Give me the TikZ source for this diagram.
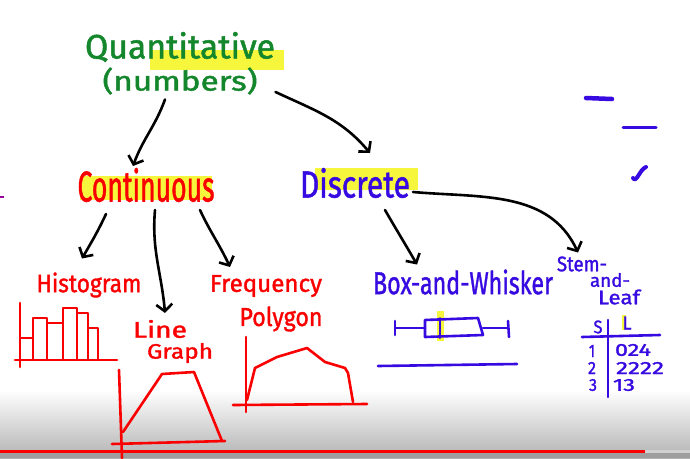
\documentclass[tikz,border=0pt]{standalone}
\usepackage{graphicx}
\usepackage{fontspec}
\setmainfont{Fira Sans}
\newfontfamily\handfont{Fira Sans}[UprightFeatures={FakeBold=1.4}]
\usetikzlibrary{arrows.meta,calc}
\definecolor{qgreen}{RGB}{20,135,45}
\definecolor{qred}{RGB}{250,0,0}
\definecolor{qblue}{RGB}{55,10,225}
\definecolor{qyellow}{RGB}{246,246,60}
\newcommand{\fitt}[3]{\resizebox*{#1pt}{#2pt}{\handfont #3}}
\begin{document}
\begin{tikzpicture}[x=1pt,y=-1pt,
  every node/.style={inner sep=0pt,outer sep=0pt},
  arr/.style={draw=black,line width=2.6pt,line cap=round,-{Straight Barb[length=7pt,width=16pt,line width=2.6pt]}},
  redpen/.style={draw=qred,line width=2.6pt,line cap=round,line join=round},
  bluepen/.style={draw=qblue,line width=2.6pt,line cap=round,line join=round},
  hl/.style={fill=qyellow,draw=none},
  gtxt/.style={text=qgreen},
  rtxt/.style={text=qred},
  btxt/.style={text=qblue}]
\useasboundingbox (0,0) rectangle (690,458);
\fill[white] (0,0) rectangle (690,458);
% video player bottom shading
\shade[top color=white,bottom color=black!30,draw=none] (0,390) rectangle (690,458);
\fill[black!38] (0,453) rectangle (690,458);
\fill[black!18] (645,449.5) rectangle (690,453);
\fill[qred] (0,449.5) rectangle (645,453);

% highlights
\fill[hl] (150,50) rectangle (284,70);
\fill[hl] (80,176) rectangle (212,200);
\fill[hl] (315,168) rectangle (418,190);
\fill[hl] (437,311) rectangle (444,341);
\fill[hl] (622,315) rectangle (626,330);

% texts
\node[gtxt] (quant) at (180,47) {\fitt{190}{30}{Quantitative}};
\node[gtxt] (numbers) at (180,81) {\fitt{155}{27}{(numbers)}};
\node[rtxt] (cont) at (146,185) {\fitt{137}{34}{Continuous}};
\node[btxt] (disc) at (355,183) {\fitt{110}{30}{Discrete}};
\node[rtxt] (hist) at (89,285) {\fitt{105}{25}{Histogram}};
\node[rtxt] (line) at (160,329) {\fitt{54}{18}{Line}};
\node[rtxt] (graph) at (180,353) {\fitt{66}{20}{Graph}};
\node[rtxt] (freq) at (266,286) {\fitt{112}{22}{Frequency}};
\node[rtxt] (poly) at (281,319) {\fitt{83}{25}{Polygon}};
\node[btxt] (box) at (463,282) {\fitt{180}{25}{Box-and-Whisker}};
\node[btxt] (stem) at (582,264) {\fitt{50}{15}{Stem-}};
\node[btxt] (and) at (610,280) {\fitt{40}{14}{and-}};
\node[btxt] (leaf) at (619,297) {\fitt{42}{15}{Leaf}};
% stem and leaf table
\node[btxt] (sh) at (598,327) {\fitt{9}{13}{S}};
\node[btxt] (lh) at (627,323) {\fitt{9}{13}{L}};
\node[btxt] (s1) at (592,351) {\fitt{6}{12}{1}};
\node[btxt] (l1) at (633,350) {\fitt{36}{12}{024}};
\node[btxt] (s2) at (592,368) {\fitt{8}{12}{2}};
\node[btxt] (l2) at (640,368) {\fitt{48}{12}{2222}};
\node[btxt] (s3) at (593,385) {\fitt{8}{12}{3}};
\node[btxt] (l3) at (624,385) {\fitt{22}{12}{13}};
\draw[bluepen] (582,337) -- (660,335);
\draw[bluepen] (608,320) -- (608,397);

% connectors
\draw[arr] ([xshift=-15pt,yshift=-5pt]numbers.south) to[out=-110,in=70] ([xshift=-13pt,yshift=2pt]cont.north);
\draw[arr] ([xshift=18pt,yshift=-11pt]numbers.east) to[out=-25,in=130] ([xshift=15pt,yshift=15pt]disc.north);
\draw[arr] ([xshift=-40pt,yshift=-12pt]cont.south) to[out=-115,in=60] ([xshift=-7pt,yshift=14pt]hist.north);
\draw[arr] ([xshift=9pt,yshift=-8pt]cont.south) to[out=-95,in=95] ([xshift=5pt,yshift=7pt]line.north);
\draw[arr] ([xshift=54pt,yshift=-8pt]cont.south) to[out=-65,in=115] ([xshift=-36pt,yshift=8pt]freq.north);
\draw[arr] ([xshift=30pt,yshift=-12pt]disc.south) to[out=-60,in=120] ([xshift=-46pt,yshift=5pt]box.north);
\draw[arr] ([xshift=3pt,yshift=6pt]disc.south east) to[out=-5,in=115] ([xshift=-4pt,yshift=4pt]stem.north);

% histogram chart
\draw[redpen] (20,303) -- (20,367);
\draw[redpen] (15,360) -- (117,360);
\draw[redpen] (20,338) rectangle (33,360);
\draw[redpen] (33,318) rectangle (47,360);
\draw[redpen] (47,323) rectangle (63,360);
\draw[redpen] (63,308) rectangle (77,360);
\draw[redpen] (77,313) rectangle (88,360);
\draw[redpen] (88,328) rectangle (98,360);

% line graph chart
\draw[redpen] (119,370) -- (122,458);
\draw[redpen] (112,444) -- (225,441);
\draw[redpen] (123,432) -- (162,374) -- (194,372) -- (222,441);

% frequency polygon chart
\draw[redpen] (246,337) -- (246,412);
\draw[redpen] (233,405) -- (367,404);
\draw[redpen] (247,400) -- (255,368) -- (277,357) -- (307,348) -- (325,362) -- (345,368) -- (348,373) -- (353,402);

% box and whisker
\draw[bluepen] (395,328) -- (425,328);
\draw[bluepen] (395,321) -- (395,335);
\draw[bluepen] (425,320) -- (478,318) -- (483,335) -- (425,337) -- cycle;
\draw[bluepen,line width=2pt] (440,318) -- (440,338);
\draw[bluepen] (483,328) -- (508,328);
\draw[bluepen] (508,321) -- (509,337);
\draw[bluepen] (378,366) -- (517,364);

% side marks
\draw[bluepen,line width=4.5pt] (586,98) -- (612,99);
\draw[bluepen,line width=3pt] (623,127) -- (656,127);
\draw[bluepen,line width=4pt] (633,178) to[out=-60,in=200] (646,167);
\draw[draw=violet!80!magenta,line width=2pt] (0,197) -- (4,197);
\end{tikzpicture}
\end{document}
